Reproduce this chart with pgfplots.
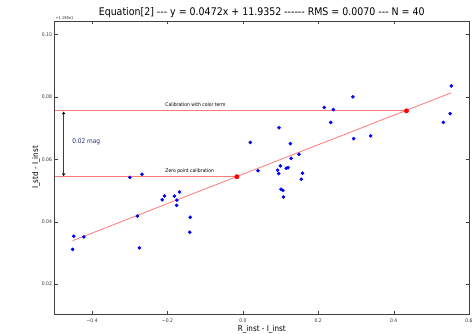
\documentclass[border=0pt]{standalone}
\usepackage{pgfplots}
\pgfplotsset{compat=1.18}
\usepackage{fontspec}
\setmainfont{DejaVu Sans Condensed}
\usetikzlibrary{arrows.meta}
\newcommand\hy{\mbox{-}}
\definecolor{fitred}{RGB}{255,120,120}
\definecolor{arrowgray}{RGB}{47,63,79}
\definecolor{magblue}{RGB}{30,50,110}
\begin{document}
\begin{tikzpicture}
\useasboundingbox (0,0) rectangle (474pt,334pt);
\begin{axis}[
  at={(54.5pt,20pt)}, anchor=south west,
  scale only axis, width=414.5pt, height=293.3pt,
  xmin=-0.5, xmax=0.6, ymin=0.0104, ymax=0.1044,
  axis line style={black!75},
  tick style={black!75},
  tick align=inside,
  major tick length=3pt,
  xtick={-0.4,-0.2,0,0.2,0.4,0.6},
  xticklabels={−0.4,−0.2,0.0,0.2,0.4,0.6},
  ytick={0.02,0.04,0.06,0.08,0.10},
  yticklabels={0.02,0.04,0.06,0.08,0.10},
  ticklabel style={font=\fontsize{5}{6}\selectfont, text=black!80},
  xticklabel style={yshift=-1pt},
  yticklabel style={xshift=1pt},
  title={Equation[2] \hy\hy\hy{} y = 0.0472x + 11.9352 \hy\hy\hy\hy\hy\hy{} RMS = 0.0070 \hy\hy\hy{} N = 40},
  title style={font=\fontsize{10.5}{12}\selectfont, yshift=-7pt},
  xlabel={R\_inst - I\_inst},
  xlabel style={font=\fontsize{8}{9}\selectfont, yshift=4pt},
  ylabel={I\_std - I\_inst},
  ylabel style={font=\fontsize{8}{9}\selectfont, yshift=-5pt},
  clip=false,
]
\addplot[fitred, line width=0.8pt] coordinates {(-0.5,0.0544) (-0.016,0.0544)};
\addplot[fitred, line width=0.8pt] coordinates {(-0.5,0.0755) (0.434,0.0755)};
\addplot[fitred, line width=0.8pt] coordinates {(-0.452,0.0339) (0.553,0.0813)};
\addplot[only marks, mark=*, mark size=1.6pt, blue, mark options={draw=blue, fill=blue}] coordinates {
(-0.300,0.0542) (-0.268,0.0552) (-0.208,0.0482) (-0.214,0.0470) (-0.182,0.0482)
(-0.168,0.0495) (-0.175,0.0469) (-0.176,0.0452) (-0.280,0.0418) (-0.140,0.0414)
(-0.141,0.0366) (-0.449,0.0353) (-0.422,0.0351) (-0.452,0.0311) (-0.275,0.0316)
(0.096,0.0701) (0.0195,0.0654) (0.126,0.0650) (0.233,0.0718) (0.128,0.0603)
(0.149,0.0616) (0.040,0.0563) (0.0995,0.0579) (0.092,0.0565) (0.095,0.0554)
(0.115,0.0571) (0.120,0.0573) (0.158,0.0555) (0.155,0.0536) (0.101,0.0504)
(0.106,0.0500) (0.108,0.0479) (0.216,0.0766) (0.240,0.0759) (0.292,0.0800)
(0.294,0.0666) (0.339,0.0675) (0.553,0.0835) (0.550,0.0746) (0.532,0.0718)
};
\addplot[only marks, mark=*, mark size=2.2pt, red, mark options={draw=red, fill=red}] coordinates {(-0.016,0.0544) (0.434,0.0755)};
\addplot[arrowgray, line width=1.6pt, {Stealth[length=3pt,width=3.5pt,black]}-{Stealth[length=3pt,width=3.5pt,black]}] coordinates {(-0.4757,0.0546) (-0.4757,0.0753)};
\node[anchor=west, text=magblue, font=\fontsize{6.5}{8}\selectfont] at (axis cs:-0.462,0.0656) {0.02 mag};
\node[anchor=west, font=\fontsize{5}{6}\selectfont, inner sep=0pt] at (axis cs:-0.206,0.0774) {Calibration with color term};
\node[anchor=west, font=\fontsize{5}{6}\selectfont, inner sep=0pt] at (axis cs:-0.206,0.0563) {Zero point calibration};
\node[anchor=south west, font=\fontsize{4}{5}\selectfont, inner sep=1pt, text=black!80] at (rel axis cs:0,1) {+1.188e1};
\end{axis}
\end{tikzpicture}
\end{document}
